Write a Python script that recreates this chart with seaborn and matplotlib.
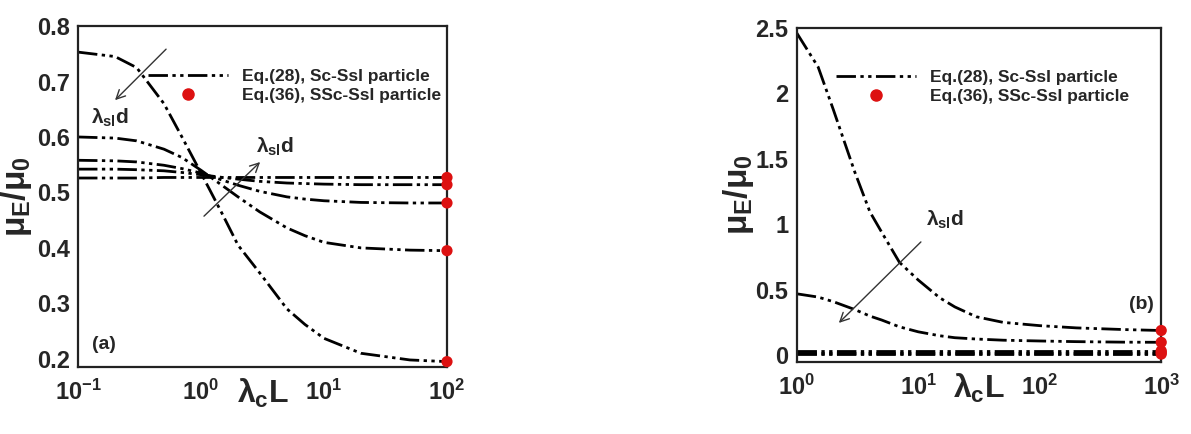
import matplotlib
matplotlib.use("Agg")
import matplotlib.pyplot as plt
import seaborn as sns
import pandas as pd
from matplotlib.lines import Line2D
from matplotlib.ticker import NullFormatter

# ---------------- data ----------------
xa = [0.1, 0.2, 0.3, 0.5, 0.7, 1, 1.5, 2, 3, 5, 7, 10, 20, 50, 100]
a1 = [0.753, 0.745, 0.725, 0.660, 0.600, 0.535, 0.460, 0.405, 0.355, 0.290, 0.262, 0.237, 0.210, 0.198, 0.195]
a2 = [0.600, 0.598, 0.593, 0.578, 0.563, 0.540, 0.512, 0.492, 0.465, 0.436, 0.422, 0.410, 0.400, 0.396, 0.395]
a3 = [0.558, 0.557, 0.555, 0.549, 0.543, 0.535, 0.522, 0.513, 0.502, 0.492, 0.488, 0.485, 0.482, 0.481, 0.481]
a4 = [0.542, 0.542, 0.541, 0.539, 0.536, 0.532, 0.527, 0.524, 0.520, 0.517, 0.516, 0.515, 0.514, 0.514, 0.514]
a5 = [0.526, 0.526, 0.526, 0.527, 0.527, 0.527, 0.527, 0.527, 0.527, 0.527, 0.527, 0.527, 0.527, 0.527, 0.527]
a_dots_x = [100, 100, 100, 100, 100]
a_dots_y = [0.527, 0.514, 0.481, 0.395, 0.195]

xb = [1, 1.5, 2, 3, 4, 5, 7, 10, 15, 20, 30, 50, 100, 200, 500, 1000]
b1 = [2.46, 2.20, 1.875, 1.40, 1.095, 0.94, 0.71, 0.575, 0.44, 0.37, 0.295, 0.252, 0.227, 0.210, 0.197, 0.190]
b2 = [0.470, 0.445, 0.410, 0.350, 0.300, 0.270, 0.218, 0.180, 0.150, 0.135, 0.125, 0.116, 0.110, 0.105, 0.101, 0.100]
b3 = [0.035, 0.035, 0.035, 0.035, 0.035, 0.035, 0.035, 0.035, 0.035, 0.035, 0.035, 0.035, 0.035, 0.035, 0.035, 0.035]
b4 = [0.022, 0.022, 0.022, 0.022, 0.022, 0.022, 0.022, 0.022, 0.022, 0.022, 0.022, 0.022, 0.022, 0.022, 0.022, 0.022]
b5 = [0.010, 0.010, 0.010, 0.010, 0.010, 0.010, 0.010, 0.010, 0.010, 0.010, 0.010, 0.010, 0.010, 0.010, 0.010, 0.010]
b_dots_x = [1000, 1000, 1000, 1000, 1000]
b_dots_y = [0.190, 0.100, 0.035, 0.022, 0.010]

xa_ticks = [0.1, 1, 10, 100]
xa_labels = [r"$\mathbf{10^{-1}}$", r"$\mathbf{10^{0}}$", r"$\mathbf{10^{1}}$", r"$\mathbf{10^{2}}$"]
ya_ticks = [0.2, 0.3, 0.4, 0.5, 0.6, 0.7, 0.8]
ya_labels = ["0.2", "0.3", "0.4", "0.5", "0.6", "0.7", "0.8"]
xb_ticks = [1, 10, 100, 1000]
xb_labels = [r"$\mathbf{10^{0}}$", r"$\mathbf{10^{1}}$", r"$\mathbf{10^{2}}$", r"$\mathbf{10^{3}}$"]
yb_ticks = [0, 0.5, 1, 1.5, 2, 2.5]
yb_labels = ["0", "0.5", "1", "1.5", "2", "2.5"]

legend_labels = ["Eq.(28), Sc-SsI particle", "Eq.(36), SSc-SsI particle"]

# ---------------- style ----------------
sns.set_style("white")
plt.rcParams.update({
    "font.family": ["Liberation Sans", "DejaVu Sans"],
    "font.weight": "bold",
    "mathtext.fontset": "custom",
    "mathtext.rm": "Liberation Sans",
    "mathtext.it": "Liberation Sans",
    "mathtext.bf": "Liberation Sans:bold",
    "mathtext.sf": "Liberation Sans",
    "axes.linewidth": 1.6,
    "axes.edgecolor": "#222222",
})

RED = "#dd1111"
DASH = (0, (7, 1.6, 1.2, 1.6, 1.2, 1.6))

fig = plt.figure(figsize=(11.91, 4.34), dpi=100)
axA = fig.add_axes([0.0655, 0.154, 0.3098, 0.786])
axB = fig.add_axes([0.669, 0.166, 0.306, 0.770])


def draw(ax, x, curves, dx, dy):
    for c in curves:
        df = pd.DataFrame({"x": x, "y": c})
        sns.lineplot(data=df, x="x", y="y", ax=ax, color="black", lw=2.0,
                     linestyle=DASH, legend=False)
    sns.scatterplot(x=dx, y=dy, ax=ax, color=RED, s=65, edgecolor="none",
                    clip_on=False, zorder=5, legend=False)


draw(axA, xa, [a1, a2, a3, a4, a5], a_dots_x, a_dots_y)
draw(axB, xb, [b1, b2, b3, b4, b5], b_dots_x, b_dots_y)

for ax, xl, xt, xtl, yl, yt, ytl in [
    (axA, (0.1, 100), xa_ticks, xa_labels, (0.185, 0.8), ya_ticks, ya_labels),
    (axB, (1, 1000), xb_ticks, xb_labels, (-0.05, 2.5), yb_ticks, yb_labels),
]:
    ax.set_xscale("log")
    ax.set_xlim(*xl)
    ax.set_ylim(*yl)
    ax.set_xticks(xt, labels=xtl)
    ax.set_yticks(yt, labels=ytl)
    ax.xaxis.set_minor_formatter(NullFormatter())
    ax.tick_params(which="major", direction="in", length=7, width=1.5,
                   labelsize=17, pad=6)
    ax.tick_params(which="minor", direction="in", length=4, width=1.0)
    ax.tick_params(axis="x", which="major", pad=9)
    for s in ax.spines.values():
        s.set_visible(True)
        s.set_linewidth(1.6)
    for lab in ax.get_yticklabels():
        lab.set_fontweight("bold")
    ax.set_xlabel(r"$\lambda_{\mathbf{c}}\mathbf{L}$", fontsize=23)
    ax.set_ylabel(r"$\mu_{\mathbf{E}}/\mu_{\mathbf{0}}$", fontsize=24)

axA.xaxis.set_label_coords(0.5, -0.03)
axB.xaxis.set_label_coords(0.5, -0.03)
axA.yaxis.set_label_coords(-0.12, 0.5)
axB.yaxis.set_label_coords(-0.112, 0.5)

# legends
handles = [Line2D([], [], color="black", lw=2.0, linestyle=DASH),
           Line2D([], [], marker="o", color=RED, linestyle="none", markersize=8)]
for ax, anchor in [(axA, (0.19, 0.875)), (axB, (0.108, 0.875))]:
    ax.legend(handles, legend_labels, loc="upper left", bbox_to_anchor=anchor,
              frameon=False, prop={"weight": "bold", "size": 12.5},
              handlelength=4.6, handletextpad=0.8, labelspacing=0.25,
              borderpad=0, borderaxespad=0)

# annotations
arrow = dict(arrowstyle="->", color="#333333", lw=1.0, mutation_scale=16)
lam = r"$\lambda_{\mathbf{sl}}\mathbf{d}$"
axA.annotate("", xy=(0.095, 0.777), xytext=(0.244, 0.938),
             xycoords="axes fraction", arrowprops=arrow)
axA.text(0.087, 0.730, lam, transform=axA.transAxes, fontsize=15,
         ha="center", va="center")
axA.annotate("", xy=(0.499, 0.607), xytext=(0.336, 0.437),
             xycoords="axes fraction", arrowprops=arrow)
axA.text(0.534, 0.645, lam, transform=axA.transAxes, fontsize=15,
         ha="center", va="center")
axA.text(0.07, 0.065, "(a)", transform=axA.transAxes, fontsize=14,
         fontweight="bold", ha="center", va="center")

axB.annotate("", xy=(0.110, 0.111), xytext=(0.346, 0.365),
             xycoords="axes fraction", arrowprops=arrow)
axB.text(0.407, 0.425, lam, transform=axB.transAxes, fontsize=15,
         ha="center", va="center")
axB.text(0.945, 0.171, "(b)", transform=axB.transAxes, fontsize=14,
         fontweight="bold", ha="center", va="center")

fig.savefig("out.png", dpi=100)
